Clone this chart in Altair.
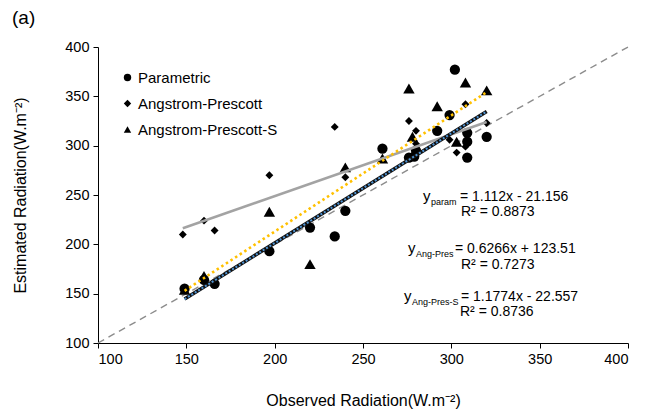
import altair as alt
import pandas as pd

series_names = ["Parametric", "Angstrom-Prescott", "Angstrom-Prescott-S"]

param_obs = [149, 160, 166, 197, 220, 234, 240, 261, 276, 279, 280, 292, 299, 302, 309, 309, 309, 320]
param_est = [155, 164, 160, 193, 217, 208, 234, 297, 288, 289, 295, 315, 331, 377, 313, 304, 288, 309]

angp_obs = [148, 160, 166, 197, 234, 240, 276, 280, 280, 299, 303, 308, 308, 320]
angp_est = [210, 224, 214, 270, 319, 268, 325, 315, 302, 306, 293, 299, 342, 323]

angs_obs = [149, 160, 197, 220, 240, 261, 276, 278, 292, 303, 308, 320]
angs_est = [154, 168, 233, 180, 278, 287, 358, 309, 340, 304, 364, 356]

slopes = [1.112, 0.6266, 1.1774]
intercepts = [-21.156, 123.51, -22.557]
r2_text = ["R² = 0.8873", "R² = 0.7273", "R² = 0.8736"]
eq_sub = ["param", "Ang-Pres", "Ang-Pres-S"]
eq_rest = ["= 1.112x - 21.156", "= 0.6266x + 123.51", "= 1.1774x - 22.557"]
identity_line = [100, 400]
axis_ticks = [100, 150, 200, 250, 300, 350, 400]

obs_all = [param_obs, angp_obs, angs_obs]
est_all = [param_est, angp_est, angs_est]

pts = pd.concat(
    [pd.DataFrame({"obs": o, "est": e, "series": s}) for o, e, s in zip(obs_all, est_all, series_names)],
    ignore_index=True,
)

trend_rows = []
for s, o, m, b in zip(series_names, obs_all, slopes, intercepts):
    for xv in (min(o), max(o)):
        trend_rows.append({"obs": xv, "est": m * xv + b, "series": s})
trend = pd.DataFrame(trend_rows)

ident = pd.DataFrame({"obs": identity_line, "est": identity_line})

FONT = "Liberation Sans"

x_enc = alt.X("obs:Q", scale=alt.Scale(domain=[100, 400], nice=False),
              axis=alt.Axis(values=axis_ticks, title="Observed Radiation(W.m⁻²)", titlePadding=27))
y_enc = alt.Y("est:Q", scale=alt.Scale(domain=[100, 400], nice=False),
              axis=alt.Axis(values=axis_ticks, title="Estimated Radiation(W.m⁻²)", titlePadding=36))

shape_enc = alt.Shape("series:N",
                      scale=alt.Scale(domain=series_names, range=["circle", "diamond", "triangle-up"]),
                      legend=alt.Legend(title=None))

base_line = alt.Chart(ident).mark_line(color="#8c8c8c", strokeWidth=1.4, strokeDash=[7, 5]).encode(x=x_enc, y=y_enc)

marker_sizes = [105, 62, 130]
point_layers = [
    alt.Chart(pts).transform_filter(alt.datum.series == s).mark_point(
        filled=True, color="black", opacity=1, size=sz).encode(x=x_enc, y=y_enc, shape=shape_enc)
    for s, sz in zip(series_names, marker_sizes)
]

gray = alt.Chart(trend).transform_filter(alt.datum.series == series_names[1]).mark_line(
    color="#a3a3a3", strokeWidth=2.6).encode(x=x_enc, y=y_enc)
black = alt.Chart(trend).transform_filter(alt.datum.series == series_names[0]).mark_line(
    color="#111111", strokeWidth=3.6).encode(x=x_enc, y=y_enc)
blue = alt.Chart(trend).transform_filter(alt.datum.series == series_names[0]).mark_line(
    color="#4f94d4", strokeWidth=2, strokeDash=[2, 2]).encode(x=x_enc, y=y_enc)
yellow = alt.Chart(trend).transform_filter(alt.datum.series == series_names[2]).mark_line(
    color="#ffc000", strokeWidth=2.6, strokeDash=[2.5, 3]).encode(x=x_enc, y=y_enc)

one = pd.DataFrame({"k": [0]})


def txt(s, x, y, size=14, align="left"):
    return alt.Chart(one).mark_text(text=s, font=FONT, fontSize=size, color="black",
                                    align=align, baseline="middle").encode(x=alt.value(x), y=alt.value(y))


# equation label positions (pixels within the plot area)
eq_pos = [(325, 333, 362, 150, 363, 165), (310, 318, 357, 202, 363, 218), (306, 314, 363, 250, 362, 265)]
texts = []
for i, (yx, sx, rx, yy, r2x, r2y) in enumerate(eq_pos):
    texts.append(txt("y", yx, yy - 1, 15))
    texts.append(txt(eq_sub[i], sx, yy + 5, 9))
    texts.append(txt(eq_rest[i], rx, yy, 14))
    texts.append(txt(r2_text[i], r2x, r2y, 14))
texts.append(txt("(a)", -86, -29, 19))

chart = alt.layer(base_line, *point_layers, gray, black, blue, yellow, *texts).properties(
    width=530, height=296,
    autosize=alt.AutoSizeParams(type="none"),
    padding={"left": 90, "top": 39, "right": 10, "bottom": 67},
).configure_view(stroke=None).configure_axis(
    grid=False, domainColor="black", tickColor="black", tickSize=5, domainWidth=1, tickWidth=1,
    labelFont=FONT, labelFontSize=14.5, labelColor="black", labelPadding=4,
    titleFont=FONT, titleFontSize=16, titleFontWeight="normal", titleColor="black",
).configure_legend(
    orient="none", legendX=22, legendY=23, labelFont=FONT, labelFontSize=15, labelColor="black",
    symbolSize=55, symbolFillColor="black", symbolStrokeColor="black", symbolStrokeWidth=0,
    rowPadding=10, labelOffset=3,
)

chart.save("out.html", embed_options={"renderer": "svg", "actions": False})
